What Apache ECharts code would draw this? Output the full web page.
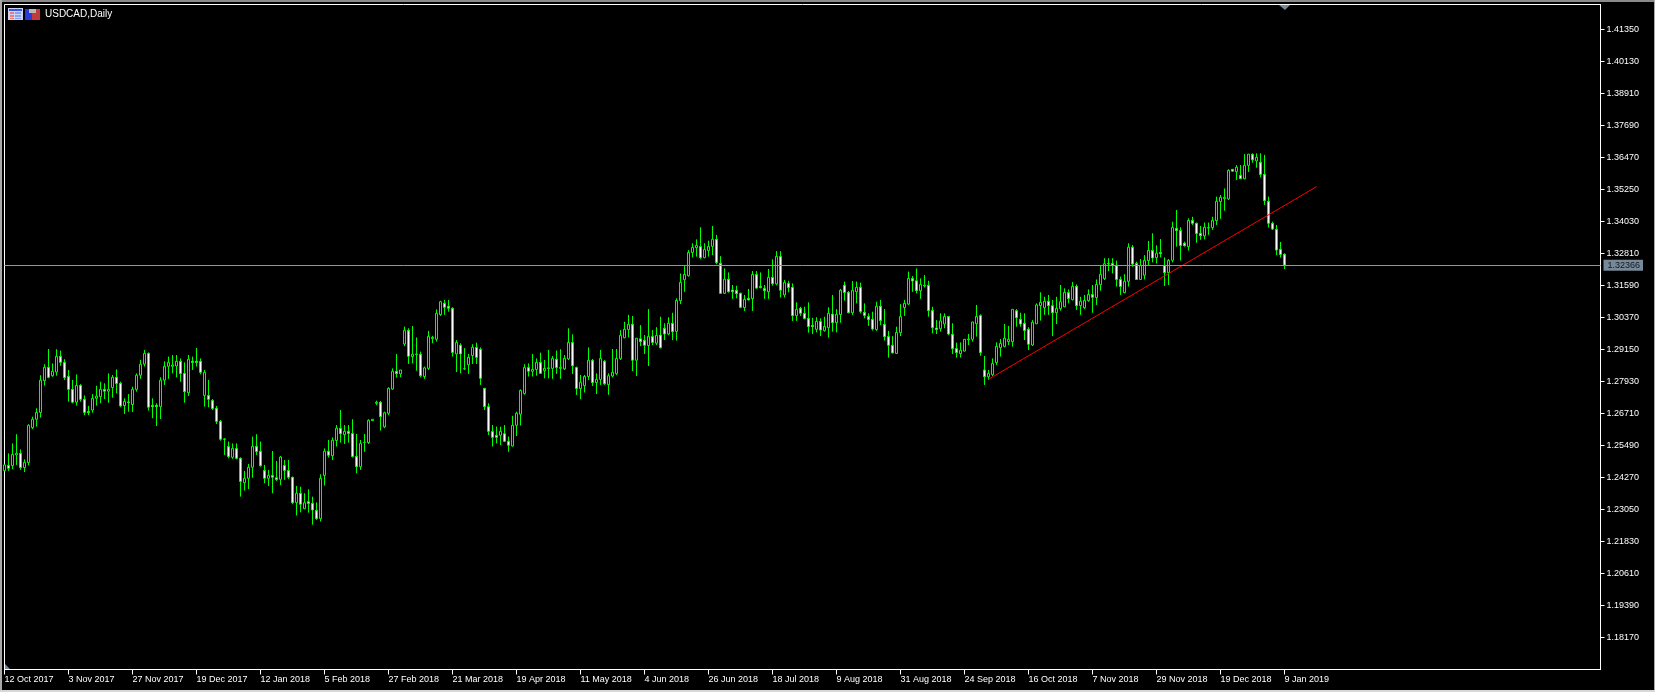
<!DOCTYPE html>
<html>
<head>
<meta charset="utf-8">
<title>USDCAD,Daily</title>
<style>
html,body{margin:0;padding:0;background:#000;overflow:hidden}
#chart{width:1655px;height:692px}
</style>
<script src="https://cdn.jsdelivr.net/npm/echarts@6/dist/echarts.min.js"></script>
</head>
<body>
<div id="chart"></div>
<script>
const chartTitle = "USDCAD,Daily";
const dateLabels = ["12 Oct 2017","3 Nov 2017","27 Nov 2017","19 Dec 2017","12 Jan 2018","5 Feb 2018","27 Feb 2018","21 Mar 2018","19 Apr 2018","11 May 2018","4 Jun 2018","26 Jun 2018","18 Jul 2018","9 Aug 2018","31 Aug 2018","24 Sep 2018","16 Oct 2018","7 Nov 2018","29 Nov 2018","19 Dec 2018","9 Jan 2019"];
const priceTicks = [1.1817,1.1939,1.2061,1.2183,1.2305,1.2427,1.2549,1.2671,1.2793,1.2915,1.3037,1.3159,1.3281,1.3403,1.3525,1.3647,1.3769,1.3891,1.4013,1.4135];
const lastPrice = 1.32366;
const trendIndexes = [246, 328];
const trendPrices = [1.28014, 1.35357];

const highs = [
1.2477,1.2519,1.2557,1.2592,1.2534,1.2496,1.2630,1.2659,1.2691,1.2817,1.2859,1.2917,1.2862,1.2916,1.2911,1.2878,
1.2837,1.2799,1.2820,1.2783,1.2740,1.2700,1.2745,1.2777,1.2792,1.2786,1.2824,1.2818,1.2839,1.2792,1.2729,1.2745,
1.2773,1.2824,1.2875,1.2913,1.2904,1.2729,1.2710,1.2809,1.2870,1.2888,1.2894,1.2894,1.2881,1.2866,1.2894,1.2888,
1.2921,1.2881,1.2837,1.2799,1.2726,1.2700,1.2646,1.2576,1.2564,1.2557,1.2557,1.2504,1.2452,1.2479,1.2583,1.2592,
1.2564,1.2475,1.2456,1.2528,1.2490,1.2509,1.2494,1.2494,1.2430,1.2395,1.2392,1.2367,1.2382,1.2354,1.2332,1.2439,
1.2538,1.2570,1.2580,1.2627,1.2684,1.2627,1.2627,1.2649,1.2593,1.2570,1.2593,1.2649,1.2649,1.2720,1.2719,1.2678,
1.2771,1.2843,1.2898,1.2837,1.3002,1.2996,1.3005,1.2961,1.2907,1.2850,1.2986,1.2967,1.3068,1.3101,1.3104,1.3104,
1.3076,1.2951,1.2939,1.2920,1.2898,1.2935,1.2941,1.2923,1.2767,1.2710,1.2627,1.2621,1.2621,1.2627,1.2583,1.2662,
1.2678,1.2763,1.2859,1.2862,1.2898,1.2881,1.2903,1.2875,1.2913,1.2890,1.2911,1.2916,1.2894,1.2996,1.2973,1.2850,
1.2818,1.2818,1.2923,1.2879,1.2824,1.2913,1.2875,1.2824,1.2917,1.2917,1.2989,1.3021,1.3047,1.3043,1.2958,1.3008,
1.2970,1.3069,1.2989,1.3000,1.3040,1.3015,1.3038,1.3055,1.3110,1.3205,1.3233,1.3294,1.3320,1.3335,1.3381,1.3320,
1.3330,1.3386,1.3352,1.3271,1.3224,1.3209,1.3161,1.3158,1.3132,1.3123,1.3146,1.3214,1.3214,1.3209,1.3161,1.3222,
1.3259,1.3290,1.3290,1.3180,1.3177,1.3167,1.3095,1.3078,1.3078,1.3095,1.3036,1.3038,1.3034,1.3040,1.3076,1.3123,
1.3069,1.3146,1.3174,1.3138,1.3176,1.3174,1.3170,1.3091,1.3053,1.3059,1.3097,1.3104,1.3069,1.2986,1.2966,1.3002,
1.3088,1.3104,1.3212,1.3195,1.3224,1.3186,1.3199,1.3177,1.3078,1.3027,1.3053,1.3053,1.3041,1.3015,1.2941,1.2942,
1.2955,1.2974,1.3021,1.3085,1.3049,1.2890,1.2837,1.2881,1.2942,1.2955,1.3012,1.3005,1.3069,1.3069,1.3055,1.3053,
1.3000,1.3027,1.3091,1.3133,1.3116,1.3123,1.3104,1.3116,1.3161,1.3148,1.3144,1.3172,1.3163,1.3116,1.3123,1.3144,
1.3161,1.3182,1.3237,1.3263,1.3263,1.3263,1.3254,1.3193,1.3202,1.3320,1.3313,1.3250,1.3260,1.3275,1.3329,1.3358,
1.3312,1.3336,1.3266,1.3260,1.3402,1.3447,1.3381,1.3326,1.3415,1.3421,1.3399,1.3386,1.3399,1.3399,1.3421,1.3498,
1.3504,1.3529,1.3602,1.3602,1.3618,1.3618,1.3660,1.3660,1.3663,1.3663,1.3663,1.3657,1.3498,1.3402,1.3390,1.3325,
1.3282];

const lows = [
1.2451,1.2452,1.2459,1.2475,1.2456,1.2448,1.2473,1.2612,1.2621,1.2655,1.2777,1.2805,1.2811,1.2815,1.2853,1.2799,
1.2716,1.2710,1.2701,1.2716,1.2665,1.2665,1.2674,1.2701,1.2710,1.2726,1.2712,1.2731,1.2748,1.2695,1.2669,1.2678,
1.2677,1.2754,1.2803,1.2850,1.2682,1.2653,1.2623,1.2650,1.2780,1.2803,1.2824,1.2809,1.2792,1.2712,1.2738,1.2837,
1.2850,1.2820,1.2697,1.2695,1.2684,1.2631,1.2567,1.2513,1.2500,1.2498,1.2496,1.2354,1.2377,1.2383,1.2426,1.2513,
1.2468,1.2405,1.2395,1.2367,1.2414,1.2398,1.2418,1.2421,1.2325,1.2282,1.2294,1.2306,1.2293,1.2247,1.2265,1.2259,
1.2396,1.2503,1.2494,1.2545,1.2560,1.2555,1.2560,1.2503,1.2443,1.2456,1.2525,1.2555,1.2644,1.2703,1.2606,1.2615,
1.2665,1.2761,1.2808,1.2809,1.2928,1.2860,1.2862,1.2834,1.2809,1.2803,1.2837,1.2939,1.2945,1.3043,1.3047,1.3059,
1.2888,1.2829,1.2824,1.2837,1.2822,1.2860,1.2860,1.2780,1.2684,1.2589,1.2545,1.2557,1.2551,1.2562,1.2525,1.2545,
1.2585,1.2625,1.2743,1.2812,1.2812,1.2815,1.2822,1.2805,1.2805,1.2803,1.2822,1.2803,1.2837,1.2875,1.2822,1.2742,
1.2726,1.2751,1.2799,1.2776,1.2745,1.2780,1.2780,1.2742,1.2809,1.2818,1.2875,1.2958,1.2961,1.2833,1.2814,1.2928,
1.2898,1.2852,1.2932,1.2932,1.2919,1.2951,1.2970,1.2951,1.2949,1.3088,1.3135,1.3193,1.3266,1.3269,1.3259,1.3263,
1.3269,1.3275,1.3240,1.3127,1.3127,1.3132,1.3108,1.3110,1.3072,1.3062,1.3102,1.3062,1.3146,1.3148,1.3108,1.3108,
1.3158,1.3160,1.3113,1.3113,1.3133,1.3024,1.3024,1.3043,1.3030,1.2979,1.2974,1.2980,1.2966,1.2983,1.2960,1.2983,
1.2980,1.3017,1.3101,1.3053,1.3047,1.3091,1.3053,1.3034,1.3005,1.2987,1.2986,1.3008,1.2949,1.2884,1.2900,1.2898,
1.2966,1.3043,1.3085,1.3135,1.3129,1.3108,1.3151,1.3040,1.2977,1.2974,1.2983,1.2996,1.2970,1.2898,1.2884,1.2884,
1.2907,1.2932,1.2945,1.2964,1.2891,1.2780,1.2799,1.2814,1.2856,1.2888,1.2923,1.2932,1.2926,1.3002,1.3002,1.2951,
1.2913,1.2928,1.3012,1.3025,1.3047,1.3047,1.2966,1.3012,1.3063,1.3076,1.3091,1.3102,1.3066,1.3047,1.3069,1.3097,
1.3055,1.3085,1.3139,1.3180,1.3214,1.3205,1.3155,1.3123,1.3129,1.3155,1.3231,1.3180,1.3180,1.3182,1.3237,1.3247,
1.3243,1.3266,1.3157,1.3161,1.3247,1.3307,1.3254,1.3307,1.3292,1.3390,1.3322,1.3333,1.3335,1.3352,1.3371,1.3390,
1.3413,1.3444,1.3485,1.3593,1.3561,1.3565,1.3564,1.3592,1.3627,1.3608,1.3571,1.3466,1.3380,1.3371,1.3275,1.3265,
1.3222];

const opens = [
1.2453,1.2473,1.2472,1.2513,1.2519,1.2465,1.2484,1.2617,1.2649,1.2675,1.2796,1.2847,1.2815,1.2829,1.2889,1.2866,
1.2813,1.2763,1.2714,1.2778,1.2725,1.2679,1.2684,1.2729,1.2735,1.2763,1.2756,1.2770,1.2809,1.2786,1.2701,1.2715,
1.2705,1.2763,1.2817,1.2859,1.2900,1.2702,1.2702,1.2697,1.2798,1.2851,1.2851,1.2852,1.2870,1.2824,1.2750,1.2870,
1.2870,1.2870,1.2740,1.2740,1.2721,1.2691,1.2641,1.2574,1.2545,1.2504,1.2538,1.2500,1.2407,1.2424,1.2466,1.2546,
1.2527,1.2454,1.2424,1.2435,1.2426,1.2420,1.2473,1.2454,1.2428,1.2331,1.2367,1.2308,1.2335,1.2329,1.2302,1.2270,
1.2435,1.2527,1.2510,1.2568,1.2615,1.2590,1.2603,1.2595,1.2508,1.2468,1.2560,1.2560,1.2644,1.2710,1.2714,1.2620,
1.2672,1.2764,1.2832,1.2822,1.2936,1.2988,1.2888,1.2895,1.2897,1.2812,1.2843,1.2956,1.2954,1.3048,1.3091,1.3080,
1.3072,1.2898,1.2931,1.2841,1.2857,1.2892,1.2923,1.2916,1.2767,1.2697,1.2602,1.2588,1.2588,1.2594,1.2565,1.2547,
1.2626,1.2668,1.2747,1.2846,1.2832,1.2839,1.2866,1.2834,1.2842,1.2843,1.2878,1.2843,1.2841,1.2879,1.2942,1.2846,
1.2766,1.2777,1.2812,1.2874,1.2789,1.2801,1.2870,1.2781,1.2814,1.2823,1.2880,1.2960,1.2991,1.3011,1.2874,1.2956,
1.2950,1.2930,1.2965,1.2939,1.2970,1.2996,1.2974,1.3015,1.2984,1.3101,1.3181,1.3196,1.3285,1.3303,1.3308,1.3265,
1.3292,1.3308,1.3335,1.3244,1.3129,1.3183,1.3142,1.3141,1.3129,1.3075,1.3110,1.3109,1.3201,1.3156,1.3148,1.3135,
1.3190,1.3165,1.3270,1.3123,1.3167,1.3152,1.3044,1.3072,1.3053,1.3034,1.3007,1.2992,1.3022,1.2987,1.2998,1.3050,
1.3017,1.3048,1.3160,1.3133,1.3055,1.3135,1.3152,1.3057,1.3041,1.3030,1.2991,1.3080,1.3011,1.2965,1.2931,1.2900,
1.2979,1.3075,1.3088,1.3186,1.3177,1.3139,1.3157,1.3160,1.3064,1.2997,1.2994,1.3012,1.3041,1.2973,1.2919,1.2899,
1.2909,1.2952,1.2954,1.3013,1.3044,1.2837,1.2811,1.2819,1.2865,1.2922,1.2927,1.2945,1.2945,1.3063,1.3030,1.3015,
1.2992,1.2932,1.3013,1.3082,1.3074,1.3099,1.3082,1.3055,1.3071,1.3078,1.3132,1.3105,1.3156,1.3082,1.3074,1.3101,
1.3125,1.3113,1.3162,1.3185,1.3241,1.3243,1.3236,1.3182,1.3132,1.3175,1.3305,1.3243,1.3182,1.3198,1.3254,1.3293,
1.3265,1.3285,1.3235,1.3208,1.3255,1.3377,1.3369,1.3320,1.3307,1.3407,1.3396,1.3358,1.3348,1.3378,1.3380,1.3406,
1.3479,1.3490,1.3489,1.3602,1.3593,1.3579,1.3566,1.3617,1.3659,1.3634,1.3629,1.3583,1.3480,1.3396,1.3373,1.3297,
1.3278];

const closes = [
1.2475,1.2462,1.2515,1.2519,1.2465,1.2485,1.2626,1.2649,1.2675,1.2798,1.2847,1.2809,1.2832,1.2889,1.2866,1.2808,
1.2763,1.2714,1.2778,1.2725,1.2675,1.2674,1.2729,1.2737,1.2763,1.2756,1.2763,1.2809,1.2785,1.2700,1.2717,1.2712,
1.2763,1.2817,1.2859,1.2900,1.2695,1.2697,1.2697,1.2798,1.2851,1.2866,1.2856,1.2870,1.2823,1.2754,1.2878,1.2865,
1.2865,1.2828,1.2828,1.2725,1.2690,1.2641,1.2573,1.2573,1.2507,1.2538,1.2500,1.2412,1.2424,1.2466,1.2546,1.2526,
1.2472,1.2424,1.2435,1.2428,1.2419,1.2505,1.2454,1.2428,1.2331,1.2367,1.2325,1.2331,1.2328,1.2303,1.2270,1.2424,
1.2527,1.2512,1.2569,1.2615,1.2594,1.2603,1.2595,1.2507,1.2468,1.2557,1.2561,1.2645,1.2649,1.2714,1.2659,1.2674,
1.2767,1.2832,1.2823,1.2837,1.2988,1.2889,1.2897,1.2898,1.2815,1.2845,1.2965,1.2961,1.3053,1.3097,1.3076,1.3072,
1.2904,1.2942,1.2898,1.2842,1.2885,1.2923,1.2885,1.2805,1.2697,1.2603,1.2580,1.2580,1.2603,1.2565,1.2550,1.2626,
1.2672,1.2759,1.2846,1.2832,1.2839,1.2866,1.2824,1.2843,1.2845,1.2881,1.2846,1.2847,1.2881,1.2942,1.2853,1.2766,
1.2790,1.2812,1.2874,1.2789,1.2801,1.2881,1.2784,1.2815,1.2828,1.2881,1.2969,1.2992,1.3011,1.2874,1.2958,1.2945,
1.2931,1.2965,1.2942,1.2969,1.2922,1.2974,1.3015,1.2983,1.3102,1.3171,1.3201,1.3285,1.3304,1.3312,1.3265,1.3296,
1.3308,1.3335,1.3246,1.3129,1.3183,1.3135,1.3135,1.3128,1.3076,1.3106,1.3104,1.3201,1.3149,1.3151,1.3139,1.3190,
1.3166,1.3270,1.3141,1.3171,1.3151,1.3044,1.3068,1.3053,1.3033,1.3002,1.3002,1.3022,1.2989,1.3003,1.3053,1.3017,
1.3049,1.3141,1.3132,1.3055,1.3141,1.3152,1.3060,1.3045,1.3029,1.2993,1.3080,1.3025,1.2964,1.2931,1.2902,1.2980,
1.3041,1.3091,1.3186,1.3176,1.3139,1.3163,1.3160,1.3063,1.2998,1.2991,1.3024,1.3041,1.2974,1.2918,1.2903,1.2912,
1.2954,1.2955,1.3020,1.3041,1.2903,1.2811,1.2824,1.2862,1.2927,1.2938,1.2958,1.2954,1.3068,1.3036,1.3012,1.2987,
1.2935,1.3019,1.3085,1.3095,1.3099,1.3082,1.3055,1.3072,1.3097,1.3133,1.3109,1.3156,1.3082,1.3099,1.3102,1.3125,
1.3114,1.3163,1.3202,1.3242,1.3243,1.3236,1.3182,1.3155,1.3175,1.3305,1.3241,1.3182,1.3235,1.3255,1.3293,1.3264,
1.3282,1.3280,1.3208,1.3255,1.3380,1.3368,1.3311,1.3311,1.3407,1.3396,1.3357,1.3349,1.3381,1.3380,1.3407,1.3480,
1.3495,1.3495,1.3598,1.3595,1.3610,1.3566,1.3617,1.3660,1.3638,1.3648,1.3582,1.3482,1.3396,1.3374,1.3294,1.3277,
1.32366];

const BAR_STEP = 16;          // one date label every 16 bars
const SLOT_COUNT = 400;       // the chart leaves empty room to the right of the last bar
const categories = Array.from({length: SLOT_COUNT}, (_, i) =>
  (i % BAR_STEP === 0 && dateLabels[i / BAR_STEP]) ? dateLabels[i / BAR_STEP] : "");
const showDate = (i) => i % BAR_STEP === 0 && i / BAR_STEP < dateLabels.length;
const candles = opens.map((o, i) => [o, closes[i], lows[i], highs[i]]);

const FONT = '"Liberation Sans", Arial, sans-serif';
const chart = echarts.init(document.getElementById('chart'), null, {renderer: 'canvas'});

function box(x, y, w, h, fill) {
  return {type: 'rect', silent: true, shape: {x, y, width: w, height: h}, style: {fill}};
}

chart.setOption({
  animation: false,
  backgroundColor: '#000000',
  grid: {left: 4.5, right: 54.5, top: 4.5, bottom: 22.5, show: true, backgroundColor: '#000', borderColor: '#ffffff', borderWidth: 1, containLabel: false},
  xAxis: {
    type: 'category',
    data: categories,
    boundaryGap: false,
    axisLine: {show: true, lineStyle: {color: '#ffffff', width: 1}},
    axisTick: {show: true, length: 5, interval: (i) => showDate(i), lineStyle: {color: '#ffffff', width: 1}},
    axisLabel: {show: true, interval: (i) => showDate(i), color: '#ffffff', fontFamily: FONT, fontSize: 9, align: 'left', margin: 6, hideOverlap: false},
    splitLine: {show: false}
  },
  yAxis: {
    type: 'value',
    position: 'right',
    min: 1.1695,
    max: 1.42303,
    scale: true,
    axisLine: {show: true, lineStyle: {color: '#ffffff', width: 1}},
    axisTick: {show: true, length: 4, customValues: priceTicks, lineStyle: {color: '#ffffff', width: 1}},
    axisLabel: {show: true, customValues: priceTicks, color: '#ffffff', fontFamily: FONT, fontSize: 9, margin: 6, formatter: (v) => v.toFixed(5), showMinLabel: true, showMaxLabel: true},
    splitLine: {show: false}
  },
  tooltip: {show: false},
  series: [
    {
      type: 'candlestick',
      name: 'USDCAD',
      data: candles,
      barWidth: 2,
      z: 3,
      itemStyle: {color: '#000000', color0: '#ffffff', borderColor: '#00ff00', borderColor0: '#00ff00', borderWidth: 1},
      markLine: {
        silent: true,
        symbol: 'none',
        animation: false,
        precision: 5,
        lineStyle: {color: '#8b97a3', width: 1, type: 'solid'},
        label: {show: true, position: 'end', distance: 3, formatter: () => lastPrice.toFixed(5), color: '#10171d', backgroundColor: '#778899', fontFamily: FONT, fontSize: 9, padding: [1, 3, 1, 4]},
        data: [{yAxis: lastPrice}]
      }
    },
    {
      type: 'line',
      name: 'trend',
      data: trendIndexes.map((x, i) => [x, trendPrices[i]]),
      showSymbol: false,
      symbol: 'none',
      silent: true,
      z: 4,
      lineStyle: {color: '#ff0000', width: 1}
    }
  ],
  graphic: {elements: [
    // terminal window edges
    box(0, 0, 1655, 2, '#8a8a8a'),
    box(0, 0, 2, 692, '#a8a8a8'),
    box(1654, 0, 1, 692, '#a8a8a8'),
    box(0, 690, 1655, 2, '#d8d8d8'),
    // table icon
    box(8, 8, 15, 12, '#c9d3f2'),
    box(9, 9, 13, 2, '#3d55e0'),
    box(10, 12, 4, 2, '#f07a7a'), box(15, 12, 6, 2, '#8ca0f0'),
    box(10, 15, 4, 2, '#f07a7a'), box(15, 15, 6, 2, '#8ca0f0'),
    box(10, 18, 4, 1, '#f07a7a'), box(15, 18, 6, 1, '#8ca0f0'),
    // save icon
    box(25, 9, 7, 11, '#2a3ad8'),
    box(32, 9, 8, 11, '#c23a3a'),
    box(29, 9, 7, 4, '#b8b8b8'),
    // chart markers
    {type: 'polygon', silent: true, shape: {points: [[1279, 5], [1290, 5], [1285, 10]]}, style: {fill: '#778899'}},
    {type: 'polygon', silent: true, shape: {points: [[5, 664], [5, 669], [10, 669]]}, style: {fill: '#778899'}},
    // title
    {type: 'text', silent: true, x: 45, y: 9, z: 10, style: {text: chartTitle, fill: '#ffffff', font: '10px ' + FONT}}
  ]}
});
</script>
</body>
</html>
